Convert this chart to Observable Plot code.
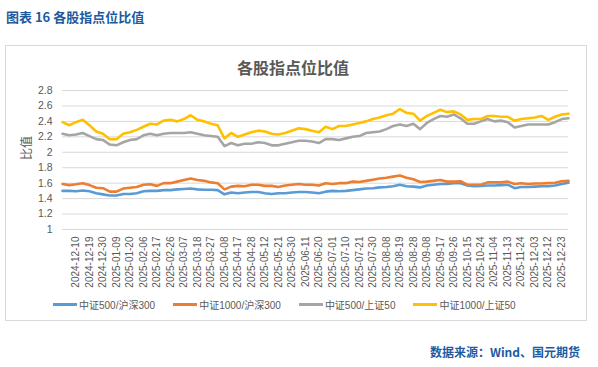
<!DOCTYPE html>
<html>
<head>
<meta charset="utf-8">
<script src="https://cdn.jsdelivr.net/npm/d3@7"></script>
<script src="https://cdn.jsdelivr.net/npm/@observablehq/plot@0.6"></script>
<style>
  html, body { margin: 0; padding: 0; background: #fff; }
  body { width: 598px; height: 367px; position: relative; overflow: hidden;
         font-family: "Liberation Sans", "Noto Sans CJK SC", sans-serif; }
  #header { position: absolute; left: 6px; top: 7px; font-size: 13px; font-weight: bold;
            color: #1e5aa0; font-family: "Noto Sans CJK SC", sans-serif; white-space: nowrap; }
  #box { position: absolute; left: 5px; top: 45px; width: 582px; height: 276px;
         border: 1px solid #d9d9d9; box-sizing: border-box; }
  #title { position: absolute; left: 0; top: 55px; width: 586px; text-align: center;
           font-size: 16px; font-weight: bold; color: #595959;
           font-family: "Noto Sans CJK SC", sans-serif; }
  #chart { position: absolute; left: 0; top: 45px; }
  #legend { position: absolute; left: 53px; top: 297px; display: flex; gap: 18px;
            font-size: 10px; color: #595959; white-space: nowrap; }
  .item { display: flex; align-items: center; }
  .sw { width: 24px; height: 3px; margin-right: 2px; }
  #caption { position: absolute; right: 18px; top: 343px; font-size: 12px; font-weight: bold;
             color: #1e5aa0; font-family: "Noto Sans CJK SC", sans-serif; white-space: nowrap; }
</style>
</head>
<body>
<div id="header">图表 16 各股指点位比值</div>
<div id="box"></div>
<div id="title">各股指点位比值</div>
<div id="chart"></div>
<div id="legend"></div>
<div id="caption">数据来源：Wind、国元期货</div>
<script>
// ---- data ----
const dates = [
  "2024-12-02","2024-12-05","2024-12-10","2024-12-16","2024-12-19","2024-12-24","2024-12-30","2025-01-06",
  "2025-01-09","2025-01-15","2025-01-20","2025-01-24","2025-02-06","2025-02-12","2025-02-17","2025-02-21",
  "2025-02-26","2025-03-04","2025-03-07","2025-03-13","2025-03-18","2025-03-24","2025-03-27","2025-04-02",
  "2025-04-08","2025-04-14","2025-04-17","2025-04-23","2025-04-28","2025-05-07","2025-05-12","2025-05-16",
  "2025-05-21","2025-05-27","2025-05-30","2025-06-06","2025-06-11","2025-06-17","2025-06-20","2025-06-26",
  "2025-07-01","2025-07-07","2025-07-10","2025-07-16","2025-07-21","2025-07-25","2025-07-30","2025-08-05",
  "2025-08-08","2025-08-14","2025-08-19","2025-08-25","2025-08-28","2025-09-03","2025-09-08","2025-09-12",
  "2025-09-17","2025-09-23","2025-09-26","2025-10-10","2025-10-15","2025-10-21","2025-10-24","2025-10-30",
  "2025-11-04","2025-11-10","2025-11-13","2025-11-19","2025-11-24","2025-11-28","2025-12-03","2025-12-09",
  "2025-12-12","2025-12-18","2025-12-23","2025-12-26"
];

const tickDates = [
  "2024-12-10","2024-12-19","2024-12-30","2025-01-09","2025-01-20","2025-02-06","2025-02-17","2025-02-26",
  "2025-03-07","2025-03-18","2025-03-27","2025-04-08","2025-04-17","2025-04-28","2025-05-12","2025-05-21",
  "2025-05-30","2025-06-11","2025-06-20","2025-07-01","2025-07-10","2025-07-21","2025-07-30","2025-08-08",
  "2025-08-19","2025-08-28","2025-09-08","2025-09-17","2025-09-26","2025-10-15","2025-10-24","2025-11-04",
  "2025-11-13","2025-11-24","2025-12-03","2025-12-12","2025-12-23"
];

const yTicks = [1, 1.2, 1.4, 1.6, 1.8, 2, 2.2, 2.4, 2.6, 2.8];

const seriesNames = ["中证500/沪深300", "中证1000/沪深300", "中证500/上证50", "中证1000/上证50"];
const seriesColors = ["#5b9bd5", "#ed7d31", "#a5a5a5", "#ffc000"];

const zz500_hs300 = [
  1.50,1.50,1.495,1.505,1.495,1.47,1.455,1.44,1.44,1.46,1.46,1.47,1.495,1.50,1.50,1.51,
  1.51,1.52,1.525,1.53,1.52,1.515,1.515,1.51,1.455,1.48,1.47,1.48,1.485,1.485,1.47,1.46,
  1.47,1.47,1.48,1.485,1.485,1.48,1.47,1.49,1.50,1.495,1.50,1.51,1.52,1.53,1.535,1.545,
  1.55,1.56,1.58,1.56,1.555,1.545,1.57,1.58,1.59,1.59,1.60,1.60,1.57,1.56,1.565,1.57,
  1.57,1.575,1.58,1.535,1.55,1.55,1.555,1.56,1.56,1.57,1.59,1.605
];
const zz1000_hs300 = [
  1.59,1.575,1.585,1.60,1.575,1.54,1.535,1.49,1.49,1.53,1.54,1.55,1.58,1.585,1.565,1.60,
  1.60,1.62,1.64,1.66,1.64,1.63,1.61,1.60,1.52,1.555,1.565,1.56,1.58,1.58,1.565,1.565,
  1.55,1.57,1.58,1.59,1.58,1.58,1.57,1.60,1.59,1.60,1.60,1.62,1.615,1.63,1.645,1.66,
  1.67,1.685,1.70,1.67,1.65,1.615,1.62,1.63,1.64,1.62,1.62,1.625,1.58,1.58,1.58,1.61,
  1.61,1.61,1.62,1.59,1.60,1.59,1.595,1.595,1.60,1.605,1.625,1.63
];
const zz500_sz50 = [
  2.24,2.22,2.23,2.25,2.21,2.17,2.16,2.10,2.09,2.13,2.16,2.17,2.22,2.24,2.22,2.24,
  2.25,2.25,2.25,2.26,2.24,2.22,2.21,2.20,2.08,2.12,2.09,2.11,2.11,2.13,2.12,2.09,
  2.09,2.11,2.13,2.15,2.15,2.14,2.12,2.17,2.17,2.16,2.18,2.20,2.21,2.25,2.26,2.27,
  2.30,2.34,2.36,2.34,2.37,2.30,2.38,2.43,2.47,2.46,2.49,2.44,2.37,2.37,2.40,2.43,
  2.40,2.41,2.39,2.32,2.34,2.36,2.36,2.36,2.36,2.39,2.43,2.44
];
const zz1000_sz50 = [
  2.39,2.35,2.39,2.42,2.35,2.27,2.24,2.17,2.17,2.24,2.26,2.29,2.33,2.37,2.36,2.41,
  2.42,2.40,2.43,2.48,2.42,2.40,2.37,2.35,2.18,2.25,2.20,2.23,2.26,2.28,2.27,2.24,
  2.23,2.25,2.28,2.31,2.30,2.28,2.26,2.33,2.30,2.34,2.34,2.36,2.38,2.40,2.43,2.45,
  2.48,2.50,2.56,2.51,2.50,2.41,2.47,2.51,2.55,2.52,2.53,2.49,2.42,2.43,2.43,2.47,
  2.47,2.46,2.46,2.41,2.43,2.44,2.45,2.47,2.42,2.46,2.49,2.50
];

const seriesValues = [zz500_hs300, zz1000_hs300, zz500_sz50, zz1000_sz50];

// ---- build table ----
const rows = [];
seriesNames.forEach((name, i) => {
  seriesValues[i].forEach((v, j) => rows.push({series: name, date: dates[j], value: v}));
});

const FONT = '"Liberation Sans", "Noto Sans CJK SC", sans-serif';

const chart = Plot.plot({
  width: 598,
  height: 255,
  marginTop: 45,
  marginBottom: 71,
  marginLeft: 62,
  marginRight: 30,
  style: {fontFamily: FONT, background: "transparent", overflow: "visible"},
  x: {type: "point", domain: dates, padding: 0, axis: null},
  y: {domain: [1, 2.8], axis: null},
  color: {domain: seriesNames, range: seriesColors},
  marks: [
    Plot.ruleY(yTicks, {stroke: "#d9d9d9", strokeWidth: 1}),
    Plot.text(yTicks, {y: d => d, text: d => String(d), frameAnchor: "left", textAnchor: "end",
      dx: -10, fill: "#595959", fontSize: 10.5}),
    Plot.text(tickDates, {x: d => d, text: d => d, frameAnchor: "bottom", rotate: -90,
      textAnchor: "end", lineAnchor: "middle", dy: 7, fill: "#595959", fontSize: 10}),
    Plot.text(["比值"], {text: d => d, frameAnchor: "left", rotate: -90, dx: -35,
      fill: "#595959", fontSize: 12, fontFamily: '"Noto Sans CJK SC", sans-serif'}),
    Plot.line(rows, {x: "date", y: "value", z: "series", stroke: "series",
      strokeWidth: 2.6, strokeLinejoin: "round", strokeLinecap: "round"})
  ]
});
document.getElementById("chart").appendChild(chart);

// ---- legend ----
const legend = document.getElementById("legend");
seriesNames.forEach((name, i) => {
  const item = document.createElement("div");
  item.className = "item";
  const sw = document.createElement("span");
  sw.className = "sw";
  sw.style.background = seriesColors[i];
  const tx = document.createElement("span");
  tx.textContent = name;
  item.appendChild(sw);
  item.appendChild(tx);
  legend.appendChild(item);
});
</script>
</body>
</html>
